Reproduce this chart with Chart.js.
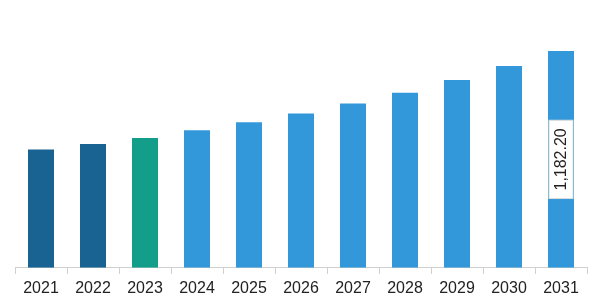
<!DOCTYPE html>
<html>
<head>
<meta charset="utf-8">
<script src="https://cdn.jsdelivr.net/npm/chart.js@4/dist/chart.umd.min.js"></script>
<style>
  html, body { margin: 0; padding: 0; background: #fff; }
  #wrap { width: 600px; height: 301px; position: relative; }
</style>
</head>
<body>
<div id="wrap"><canvas id="chart"></canvas></div>
<script>
// values
const years = ['2021', '2022', '2023', '2024', '2025', '2026', '2027', '2028', '2029', '2030', '2031'];
const marketValues = [644.5, 675.5, 708.2, 749.6, 793.2, 840.6, 895.1, 955.0, 1024.2, 1100.5, 1182.2];
const barColors = ['#186391', '#186391', '#139e89', '#3398da', '#3398da', '#3398da',
                   '#3398da', '#3398da', '#3398da', '#3398da', '#3398da'];
const labelledIndex = 10;

// rotated value label inside the last bar, on a white box
const valueLabel = {
    id: 'valueLabel',
    afterDatasetsDraw(chart) {
        const bar = chart.getDatasetMeta(0).data[labelledIndex];
        if (!bar) return;
        const ctx = chart.ctx;
        const text = marketValues[labelledIndex].toLocaleString('en-US', { minimumFractionDigits: 2 });
        const cx = bar.x;
        const cy = (bar.y + bar.base) / 2;
        ctx.save();
        ctx.translate(cx, cy);
        ctx.rotate(-Math.PI / 2);
        ctx.font = '16px "Liberation Sans", Arial, sans-serif';
        const w = ctx.measureText(text).width + 16;
        const h = 24;
        ctx.fillStyle = '#fff';
        ctx.fillRect(-w / 2, -h / 2, w, h);
        ctx.strokeStyle = '#dcdcdc';
        ctx.lineWidth = 1;
        ctx.strokeRect(-w / 2, -h / 2, w, h);
        ctx.fillStyle = '#222';
        ctx.textAlign = 'center';
        ctx.textBaseline = 'middle';
        ctx.fillText(text, 0, 1);
        ctx.restore();
    }
};

new Chart(document.getElementById('chart'), {
    type: 'bar',
    data: {
        labels: years,
        datasets: [{
            data: marketValues,
            backgroundColor: barColors,
            borderWidth: 0,
            barPercentage: 0.5,
            categoryPercentage: 1,
        }],
    },
    options: {
        responsive: true,
        maintainAspectRatio: false,
        animation: false,
        layout: { padding: { top: 11, left: 15, right: 13, bottom: -2 } },
        plugins: {
            legend: { display: false },
            tooltip: { enabled: false },
        },
        scales: {
            x: {
                grid: {
                    offset: true,
                    drawOnChartArea: false,
                    drawTicks: true,
                    tickLength: 6,
                    color: '#d0d0d0',
                },
                border: { color: '#d0d0d0', width: 1 },
                ticks: {
                    color: '#222',
                    font: { family: '"Liberation Sans", Arial, sans-serif', size: 16 },
                    padding: 5,
                    maxRotation: 0,
                },
            },
            y: {
                display: false,
                min: 0,
                max: 1400,
            },
        },
    },
    plugins: [valueLabel],
});
</script>
</body>
</html>
